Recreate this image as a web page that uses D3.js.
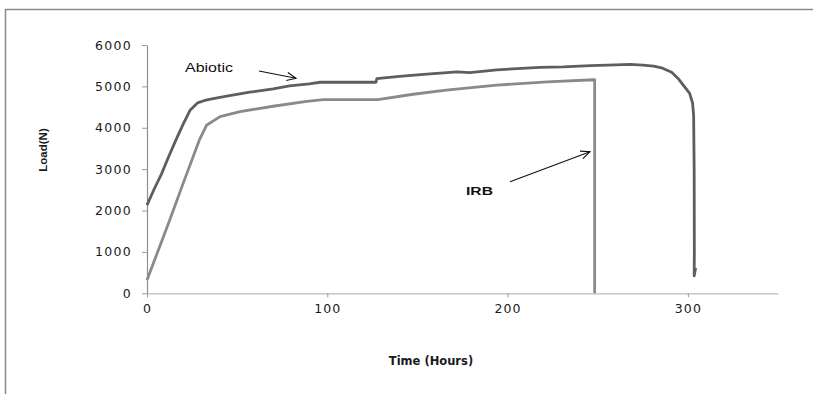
<!DOCTYPE html>
<html>
<head>
<meta charset="utf-8">
<script src="https://cdn.jsdelivr.net/npm/d3@7"></script>
<style>
  html, body { margin: 0; padding: 0; background: #fff; }
  svg { display: block; }
</style>
</head>
<body>
<div id="chart"></div>
<script>
// Load vs time, Abiotic and IRB samples

const abioticHours = [0, 4, 8, 12, 16, 20, 24, 28, 32, 36, 45, 57, 70, 79, 90, 96, 127, 127.5, 140, 157, 172, 179, 194, 218, 231, 246, 260, 268, 275, 281, 286, 291, 295, 298, 301, 302.6, 303.2, 303.5, 303.6, 303.5, 304.3];
const abioticLoad  = [2130, 2520, 2880, 3300, 3700, 4080, 4430, 4600, 4660, 4700, 4770, 4860, 4940, 5010, 5060, 5100, 5100, 5190, 5240, 5300, 5350, 5330, 5400, 5460, 5470, 5500, 5520, 5530, 5515, 5490, 5440, 5340, 5170, 5000, 4830, 4600, 4300, 3000, 1000, 420, 620];

const irbHours = [0, 12, 20, 29, 33, 40.5, 51.6, 70, 88.6, 97.8, 128, 147.6, 166, 194, 222, 247.8, 248.3, 248.3];
const irbLoad  = [320, 1700, 2650, 3700, 4060, 4270, 4390, 4520, 4640, 4680, 4680, 4810, 4910, 5030, 5110, 5160, 5160, 0];

const xTicks = [0, 100, 200, 300];
const yTicks = [0, 1000, 2000, 3000, 4000, 5000, 6000];

const W = 813, H = 394;
const svg = d3.select('#chart').append('svg')
    .attr('width', W)
    .attr('height', H);

// outer frame (top and left edge only visible)
svg.append('path')
    .attr('d', `M5.5,${H} V9.5 H${W}`)
    .attr('fill', 'none')
    .attr('stroke', '#8a8a8a')
    .attr('stroke-width', 1.5);

const x = d3.scaleLinear().domain([0, 350]).range([147, 778]);
const y = d3.scaleLinear().domain([0, 6000]).range([293.3, 45]);

// x axis
const xAxis = svg.append('g')
    .attr('transform', `translate(0,${y(0)})`)
    .call(d3.axisBottom(x).tickValues(xTicks).tickFormat(d3.format('d'))
        .tickSizeOuter(0).tickSizeInner(4).tickPadding(7));
xAxis.select('.domain').attr('stroke', '#bdbdbd').attr('stroke-width', 1.2);
xAxis.selectAll('.tick line').attr('stroke', '#9a9a9a');
xAxis.selectAll('.tick text')
    .attr('fill', '#1a1a1a')
    .style('font-family', 'DejaVu Sans')
    .style('font-size', '12.5px')
    .style('letter-spacing', '1.1px');

// y axis
const yAxis = svg.append('g')
    .attr('transform', `translate(${x(0)},0)`)
    .call(d3.axisLeft(y).tickValues(yTicks).tickFormat(d3.format('d'))
        .tickSizeOuter(0).tickSizeInner(5).tickPadding(10));
yAxis.select('.domain').attr('stroke', '#8f8f8f').attr('stroke-width', 1.2);
yAxis.selectAll('.tick line').attr('stroke', '#9a9a9a');
yAxis.selectAll('.tick text')
    .attr('fill', '#1a1a1a')
    .style('font-family', 'DejaVu Sans')
    .style('font-size', '12.5px')
    .style('letter-spacing', '1.3px');

// axis titles
svg.append('text')
    .attr('x', 431)
    .attr('y', 365)
    .attr('text-anchor', 'middle')
    .style('font-family', 'DejaVu Sans')
    .style('font-weight', 'bold')
    .style('font-size', '11.5px')
    .attr('fill', '#1a1a1a')
    .text('Time (Hours)');

svg.append('text')
    .attr('transform', 'translate(47,150) rotate(-90)')
    .attr('text-anchor', 'middle')
    .style('font-family', 'Liberation Sans')
    .style('font-weight', 'bold')
    .style('font-size', '11.5px')
    .attr('fill', '#1a1a1a')
    .text('Load(N)');

// series
const line = d3.line()
    .x(d => x(d[0]))
    .y(d => y(d[1]))
    .curve(d3.curveLinear);

const irbData = irbHours.map((h, i) => [h, irbLoad[i]]);
const abioticData = abioticHours.map((h, i) => [h, abioticLoad[i]]);

svg.append('path')
    .datum(irbData)
    .attr('d', line)
    .attr('fill', 'none')
    .attr('stroke', '#8a8a8a')
    .attr('stroke-width', 2.8)
    .attr('stroke-linejoin', 'round');

svg.append('path')
    .datum(abioticData)
    .attr('d', line)
    .attr('fill', 'none')
    .attr('stroke', '#5e5e5e')
    .attr('stroke-width', 2.8)
    .attr('stroke-linejoin', 'round');

// annotations
function label(txt, px, py, size, weight, sx) {
    svg.append('text')
        .attr('transform', `translate(${px},${py}) scale(${sx},1)`)
        .style('font-family', 'Liberation Sans')
        .style('font-size', size + 'px')
        .style('font-weight', weight)
        .attr('fill', '#111')
        .text(txt);
}
label('Abiotic', 185, 71.5, 12.5, 'normal', 1.28);
label('IRB', 466, 195, 11.5, 'bold', 1.36);

function arrow(x1, y1, x2, y2) {
    const ang = Math.atan2(y2 - y1, x2 - x1);
    const len = 10, spread = 0.42;
    svg.append('line')
        .attr('x1', x1).attr('y1', y1).attr('x2', x2).attr('y2', y2)
        .attr('stroke', '#111').attr('stroke-width', 1.1);
    svg.append('path')
        .attr('d', `M${x2 - len * Math.cos(ang - spread)},${y2 - len * Math.sin(ang - spread)} L${x2},${y2} L${x2 - len * Math.cos(ang + spread)},${y2 - len * Math.sin(ang + spread)}`)
        .attr('fill', 'none')
        .attr('stroke', '#111')
        .attr('stroke-width', 1.1);
}
arrow(259, 71, 296, 78.3);
arrow(510, 181.7, 590, 151.7);
</script>
</body>
</html>
